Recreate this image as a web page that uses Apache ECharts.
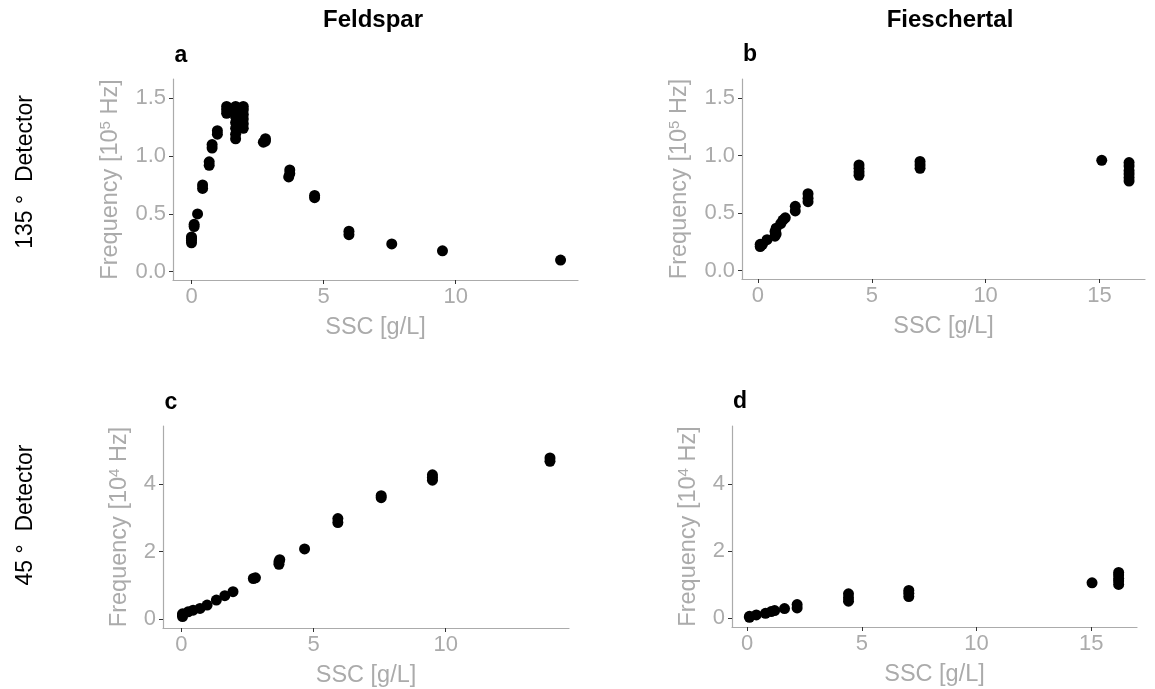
<!DOCTYPE html>
<html lang="en">
<head>
    <meta charset="UTF-8">
    <title>Feldspar / Fieschertal</title>
    <script src="https://cdn.jsdelivr.net/npm/echarts@6/dist/echarts.min.js"></script>
    <style>
        html, body {margin: 0; padding: 0; background: #fff;}
        #chartmain {width: 1155px; height: 689px;}
    </style>
</head>
<body>
<div id="chartmain"></div>
<script>
    // a: Feldspar, 135 deg detector [1e5 Hz]
    var aSSC  = [0, 0, 0, 0, 0.1, 0.1, 0.23, 0.42, 0.42, 0.67, 0.67, 0.78, 0.78, 0.98, 0.98,
                 1.33, 1.33, 1.33, 1.67, 1.67, 1.67, 1.67, 1.67, 1.67, 1.67,
                 1.96, 1.96, 1.96, 1.96, 1.96, 1.96, 2.72, 2.8, 2.8, 3.68, 3.72, 3.72,
                 4.66, 4.66, 5.96, 5.96, 7.58, 9.5, 13.97];
    var aFreq = [0.25, 0.27, 0.29, 0.30, 0.39, 0.41, 0.50, 0.72, 0.75, 0.92, 0.95, 1.07, 1.10, 1.19, 1.22,
                 1.37, 1.40, 1.43, 1.15, 1.19, 1.24, 1.29, 1.34, 1.39, 1.43,
                 1.24, 1.28, 1.32, 1.36, 1.40, 1.43, 1.12, 1.13, 1.15, 0.82, 0.85, 0.88,
                 0.64, 0.66, 0.32, 0.35, 0.24, 0.18, 0.10];

    // b: Fieschertal, 135 deg detector [1e5 Hz]
    var bSSC  = [0.1, 0.1, 0.2, 0.4, 0.75, 0.75, 0.8, 0.8, 1.0, 1.1, 1.2, 1.64, 1.64,
                 2.2, 2.2, 2.2, 4.44, 4.44, 4.44, 4.44, 7.12, 7.12, 7.12, 15.1,
                 16.3, 16.3, 16.3, 16.3, 16.3, 16.3];
    var bFreq = [0.21, 0.23, 0.23, 0.27, 0.30, 0.34, 0.32, 0.37, 0.41, 0.44, 0.46, 0.52, 0.56,
                 0.60, 0.63, 0.67, 0.83, 0.86, 0.89, 0.92, 0.89, 0.92, 0.95, 0.96,
                 0.78, 0.81, 0.84, 0.87, 0.91, 0.94];

    // c: Feldspar, 45 deg detector [1e4 Hz]
    var cSSC  = [0.04, 0.04, 0.04, 0.25, 0.44, 0.7, 0.97, 1.32, 1.64, 1.95, 2.72, 2.8,
                 3.69, 3.69, 3.72, 4.66, 5.92, 5.92, 7.56, 7.56, 9.5, 9.5, 9.5, 13.95, 13.95];
    var cFreq = [0.07, 0.11, 0.15, 0.21, 0.26, 0.31, 0.41, 0.56, 0.69, 0.81, 1.20, 1.22,
                 1.62, 1.70, 1.76, 2.08, 2.86, 2.98, 3.60, 3.66, 4.12, 4.20, 4.28, 4.68, 4.78];

    // d: Fieschertal, 45 deg detector [1e4 Hz]
    var dSSC  = [0.1, 0.1, 0.4, 0.8, 1.05, 1.2, 1.63, 2.18, 2.18, 4.42, 4.42, 4.42,
                 7.05, 7.05, 7.05, 15.04, 16.2, 16.2, 16.2, 16.2, 16.2];
    var dFreq = [0.02, 0.05, 0.09, 0.14, 0.19, 0.22, 0.28, 0.30, 0.40, 0.50, 0.60, 0.72,
                 0.64, 0.74, 0.82, 1.05, 1.00, 1.10, 1.18, 1.28, 1.36];

    var xTicksFeldspar = [0, 5, 10];
    var xTicksFiesch   = [0, 5, 10, 15];
    var yTicksTop      = [0, 0.5, 1.0, 1.5];
    var yTicksBottom   = [0, 2, 4];

    function pairs(xs, ys) {
        var out = [];
        for (var i = 0; i < xs.length; i++) out.push([xs[i], ys[i]]);
        return out;
    }

    var grey = '#ababab';
    var font = 'Liberation Sans, Arial, sans-serif';

    function xAx(idx, min, max, ticks) {
        return {
            gridIndex: idx, type: 'value', min: min, max: max,
            name: 'SSC [g/L]', nameLocation: 'middle', nameGap: 36,
            nameTextStyle: {color: grey, fontSize: 23.5, fontFamily: font},
            axisLine: {show: true, onZero: false, lineStyle: {color: grey, width: 1.2}},
            axisTick: {show: true, length: 4, customValues: ticks, lineStyle: {color: '#333'}},
            axisLabel: {customValues: ticks, color: grey, fontSize: 22, fontFamily: font, margin: 6},
            splitLine: {show: false}
        };
    }

    function yAx(idx, min, max, ticks, exp, gap, dec) {
        return {
            gridIndex: idx, type: 'value', min: min, max: max,
            name: '{n|Frequency [10}{s|' + exp + '}{n| Hz]}',
            nameLocation: 'middle', nameGap: gap, nameRotate: 90,
            nameTextStyle: {
                color: grey, fontSize: 23.5, fontFamily: font,
                rich: {
                    n: {color: grey, fontSize: 23.5, fontFamily: font, lineHeight: 26},
                    s: {color: grey, fontSize: 15, fontFamily: font, lineHeight: 26, verticalAlign: 'top'}
                }
            },
            axisLine: {show: true, onZero: false, lineStyle: {color: grey, width: 1.2}},
            axisTick: {show: true, length: 4, customValues: ticks, lineStyle: {color: '#333'}},
            axisLabel: {
                customValues: ticks, color: grey, fontSize: 22, fontFamily: font, margin: 7,
                formatter: function (v) { return v.toFixed(dec); }
            },
            splitLine: {show: false}
        };
    }

    function sc(idx, data) {
        return {
            type: 'scatter', xAxisIndex: idx, yAxisIndex: idx, data: data,
            symbolSize: 11, itemStyle: {color: '#000', opacity: 1}, silent: true
        };
    }

    function txt(x, y, s, size, bold, rot) {
        return {
            type: 'text', x: x, y: y, rotation: rot || 0,
            style: {
                text: s, fill: '#000', font: (bold ? 'bold ' : '') + size + 'px ' + font,
                align: 'center', verticalAlign: 'middle'
            }
        };
    }

    var option = {
        animation: false,
        backgroundColor: '#fff',
        grid: [
            {left: 173, top: 79, width: 405, height: 201},
            {left: 742, top: 79, width: 403, height: 200},
            {left: 163, top: 426, width: 406, height: 202},
            {left: 732, top: 426, width: 405, height: 201}
        ],
        xAxis: [
            xAx(0, -0.7, 14.63, xTicksFeldspar),
            xAx(1, -0.7, 17.0, xTicksFiesch),
            xAx(2, -0.7, 14.67, xTicksFeldspar),
            xAx(3, -0.66, 17.0, xTicksFiesch)
        ],
        yAxis: [
            yAx(0, -0.072, 1.667, yTicksTop, '5', 49, 1),
            yAx(1, -0.072, 1.667, yTicksTop, '5', 49, 1),
            yAx(2, -0.27, 5.73, yTicksBottom, '4', 30, 0),
            yAx(3, -0.27, 5.73, yTicksBottom, '4', 30, 0)
        ],
        series: [
            sc(0, pairs(aSSC, aFreq)),
            sc(1, pairs(bSSC, bFreq)),
            sc(2, pairs(cSSC, cFreq)),
            sc(3, pairs(dSSC, dFreq))
        ],
        graphic: [
            txt(373, 20, 'Feldspar', 24, true),
            txt(950, 20, 'Fieschertal', 24, true),
            txt(181, 56, 'a', 23, true),
            txt(750, 55, 'b', 23, true),
            txt(171, 403, 'c', 23, true),
            txt(740, 402, 'd', 23, true),
            txt(26, 172, '135 \u00b0  Detector', 23, false, Math.PI / 2),
            txt(26, 515, '45 \u00b0  Detector', 23, false, Math.PI / 2)
        ]
    };

    var myChart = echarts.init(document.getElementById('chartmain'));
    myChart.setOption(option);
</script>
</body>
</html>
